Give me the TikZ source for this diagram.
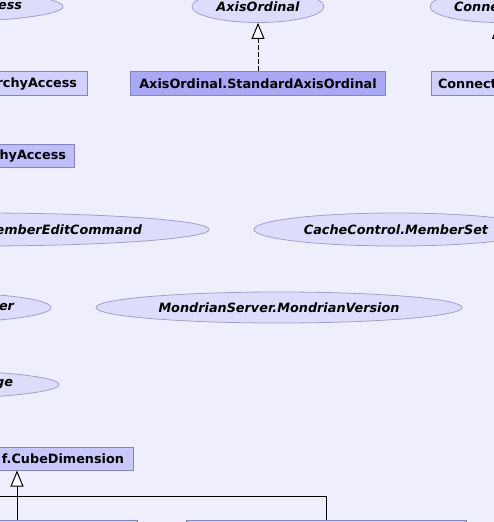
\documentclass[tikz,border=0pt]{standalone}
\usepackage{fontspec}
\setmainfont{DejaVu Sans}
\usetikzlibrary{arrows.meta,shapes.geometric}

\definecolor{pagebg}{HTML}{EEEEFD}
\definecolor{ovalfill}{HTML}{DDDDFB}
\definecolor{ovalline}{HTML}{A0A0C8}
\definecolor{boxline}{HTML}{8484C4}
\definecolor{boxlight}{HTML}{D0D0FD}
\definecolor{boxmid}{HTML}{BEBEFA}
\definecolor{boxsoft}{HTML}{C8C8FC}
\definecolor{boxhi}{HTML}{A8A8F4}

\tikzset{
  cls/.style={draw=boxline, line width=1bp, rectangle, minimum height=24bp,
    inner ysep=0pt, inner xsep=8bp, font=\fontsize{12.8bp}{14bp}\selectfont\bfseries},
  iface/.style={draw=ovalline, line width=0.8bp, fill=ovalfill, ellipse, inner sep=0pt,
    font=\fontsize{12.8bp}{14bp}\selectfont\bfseries\itshape},
  realize/.style={line width=1bp, dash pattern=on 5bp off 2bp,
    -{Triangle[length=16bp,width=13bp,fill=white]}},
  inherit/.style={line width=1bp, -{Triangle[length=16bp,width=13bp,fill=white]}}
}

\begin{document}
\begin{tikzpicture}[x=1bp,y=-1bp]
\useasboundingbox (0,0) rectangle (494,522);
\fill[pagebg] (0,0) rectangle (494,522);

% interfaces (ellipses), top row cut by the page edges
\node[iface, minimum width=280bp, minimum height=32bp, text width=198bp, align=right] (hierIf) at (-77,6.5) {ess};
\node[iface, minimum width=132bp, minimum height=32bp] (axisOrd) at (258,6.5) {AxisOrdinal};
\node[iface, minimum width=137bp, minimum height=32bp, text width=89bp, align=left] (connIf) at (498.5,6.5) {Conne};

% classes below them
\node[cls, fill=boxlight, text width=274bp, inner xsep=10bp, align=right] (hierAccess) at (-60,84) {rchyAccess};
\node[cls, fill=boxhi, minimum width=255bp] (stdOrd) at (258,84) {AxisOrdinal.StandardAxisOrdinal};
\node[cls, fill=boxlight, text width=121bp, inner xsep=7bp, align=left] (connBox) at (498.5,84) {Connect};
\node[cls, fill=boxmid, minimum height=23bp, text width=232bp, align=right] (hierAccess2) at (-50,156.5) {hyAccess};

% loose interfaces
\node[iface, minimum width=458bp, minimum height=33bp, text width=324bp, align=right] (editCmd) at (-20,229.5) {emberEditCommand};
\node[iface, minimum width=284bp, minimum height=33bp] (memberSet) at (396,229.5) {CacheControl.MemberSet};
\node[iface, minimum width=252bp, minimum height=31bp, text width=178bp, align=right] (serverIf) at (-75,307.5) {er};
\node[iface, minimum width=366bp, minimum height=31bp] (mondVer) at (279,307.5) {MondrianServer.MondrianVersion};
\node[iface, minimum width=314bp, minimum height=30bp, text width=222bp, align=right] (msgIf) at (-98,384.5) {ge};

% CubeDimension and its subclasses
\node[cls, fill=boxsoft, minimum height=23bp, text width=214bp, inner xsep=9bp, align=right] (cubeDim) at (17,458.5) {f.CubeDimension};
\node[cls, fill=boxlight, minimum height=23bp, minimum width=240bp] (cubeSub) at (17,531.5) {};
\node[cls, fill=boxlight, minimum height=23bp, minimum width=280bp] (otherSub) at (326,531.5) {};
\coordinate (otherUp) at (-30,496);

\draw[realize] (stdOrd.north) -- (axisOrd.south);
\draw[realize] (connBox.north) -- (connIf.south);
\draw[inherit] (cubeSub.north) -- (cubeDim.south);
\draw[line width=1bp] (otherSub.north) |- (otherUp);
\end{tikzpicture}
\end{document}
